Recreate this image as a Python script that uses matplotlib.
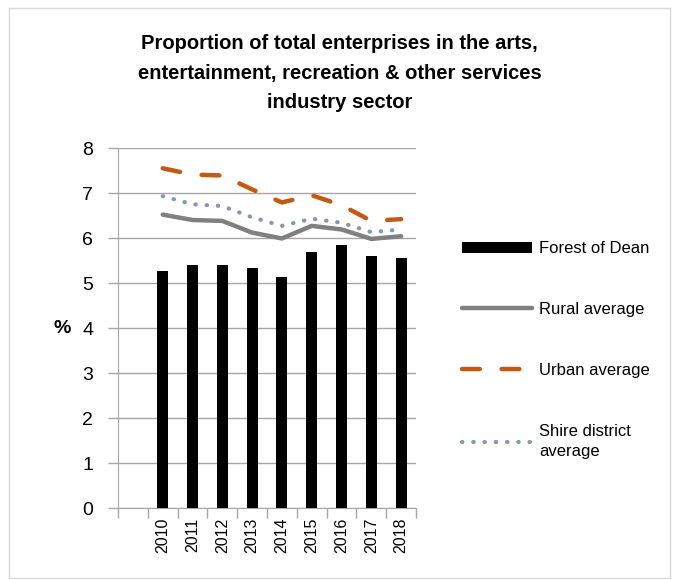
import matplotlib
matplotlib.use("Agg")
from matplotlib import pyplot as plt
from matplotlib.patches import Rectangle
import numpy as np

years = ["2010", "2011", "2012", "2013", "2014", "2015", "2016", "2017", "2018"]
forest = [5.27, 5.40, 5.40, 5.34, 5.14, 5.70, 5.85, 5.61, 5.55]
rural = [6.52, 6.40, 6.38, 6.12, 5.99, 6.27, 6.19, 5.98, 6.04]
urban = [7.55, 7.41, 7.39, 7.08, 6.79, 6.95, 6.73, 6.38, 6.42]
shire = [6.93, 6.75, 6.71, 6.46, 6.27, 6.43, 6.34, 6.13, 6.19]

plt.rcParams['font.family'] = ['Liberation Sans', 'DejaVu Sans']

fig = plt.figure(figsize=(6.79, 5.80), dpi=100)
fig.patches.append(Rectangle((0.013, 0.003), 0.974, 0.983, transform=fig.transFigure,
                             fill=False, edgecolor="#d9d9d9", linewidth=1))
ax = fig.add_axes([0.1738, 0.1241, 0.4389, 0.6207])

# first category slot is empty in the original chart
x = np.arange(1, len(years) + 1)
ax.bar(x, forest, width=0.37, color="black", label="Forest of Dean", zorder=3)
ax.plot(x, rural, color="#808080", lw=3.2, solid_capstyle="round", label="Rural average", zorder=4)
ax.plot(x, urban, color="#c65911", lw=3.2, dashes=(4.0, 4.9), dash_capstyle="round",
        label="Urban average", zorder=4)
ax.plot(x, shire, color="#8497b0", lw=3.0, dashes=(0.1, 2.6), dash_capstyle="round",
        label="Shire district\naverage", zorder=4)

ax.set_xlim(-0.5, 9.5)
ax.set_ylim(0, 8)
ax.set_yticks(range(0, 9))
ax.tick_params(axis="y", labelsize=14, length=7, color="#a6a6a6", width=1, pad=11)
ax.yaxis.grid(True, color="#a6a6a6", lw=1)
ax.set_axisbelow(True)

ax.set_xticks(x)
ax.set_xticklabels(years, rotation=90, fontsize=11.5)
ax.tick_params(axis="x", length=0, pad=7)
ax.set_xticks(np.arange(-0.5, 10, 1), minor=True)
ax.tick_params(axis="x", which="minor", length=7, color="#a6a6a6", width=1)

for s in ["top", "right"]:
    ax.spines[s].set_visible(False)
for s in ["left", "bottom"]:
    ax.spines[s].set_color("#a6a6a6")

ax.set_ylabel("%", rotation=0, fontsize=14, fontweight="bold", labelpad=14, va="center")

fig.text(0.5, 0.874, "Proportion of total enterprises in the arts,\nentertainment, recreation & other services\nindustry sector",
         ha="center", va="center", fontsize=14.5, fontweight="bold", linespacing=1.7)

handles, labels = ax.get_legend_handles_labels()
order = [3, 0, 1, 2]
leg = ax.legend([handles[i] for i in order], [labels[i] for i in order],
                loc="upper left", bbox_to_anchor=(1.105, 0.782), frameon=False, fontsize=12,
                handlelength=4.2, labelspacing=2.75, handletextpad=0.4)
leg.get_texts()[-1].set_linespacing(1.45)

fig.savefig("out.png", dpi=100)
